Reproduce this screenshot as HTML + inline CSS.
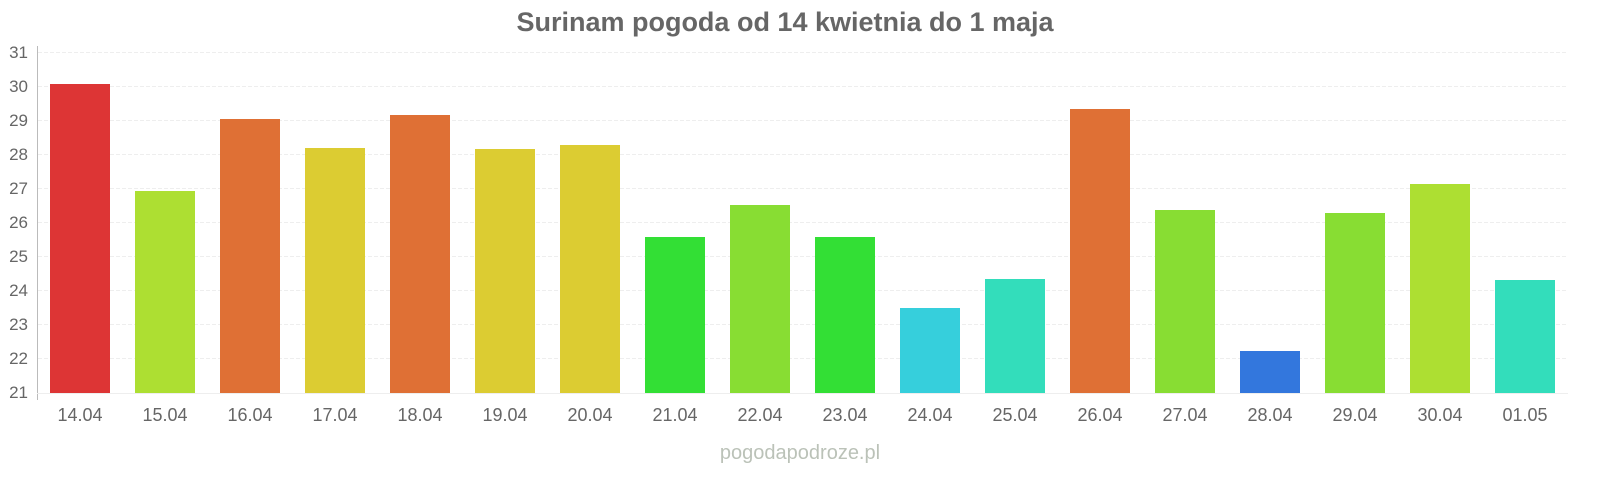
<!DOCTYPE html>
<html><head><meta charset="utf-8"><style>
html,body{margin:0;padding:0;background:#fff;}
</style></head><body>
<svg width="1600" height="480" xmlns="http://www.w3.org/2000/svg" font-family="Liberation Sans, sans-serif">
<text x="785" y="31" text-anchor="middle" font-size="27" font-weight="bold" fill="#666">Surinam pogoda od 14 kwietnia do 1 maja</text>
<g stroke="#eee" stroke-width="1" stroke-dasharray="4,2">
<line x1="38" x2="1568" y1="52.5" y2="52.5"/><line x1="38" x2="1568" y1="86.5" y2="86.5"/>
<line x1="38" x2="1568" y1="120.5" y2="120.5"/><line x1="38" x2="1568" y1="154.5" y2="154.5"/>
<line x1="38" x2="1568" y1="188.5" y2="188.5"/><line x1="38" x2="1568" y1="222.5" y2="222.5"/>
<line x1="38" x2="1568" y1="256.5" y2="256.5"/><line x1="38" x2="1568" y1="290.5" y2="290.5"/>
<line x1="38" x2="1568" y1="324.5" y2="324.5"/><line x1="38" x2="1568" y1="358.5" y2="358.5"/>
</g>
<line x1="37.5" x2="37.5" y1="46" y2="400" stroke="#bbb"/>
<line x1="37" x2="1568" y1="393.5" y2="393.5" stroke="#eee"/>
<g font-size="17" fill="#666" text-anchor="end">
<text x="28" y="58">31</text><text x="28" y="92">30</text><text x="28" y="126">29</text><text x="28" y="160">28</text>
<text x="28" y="194">27</text><text x="28" y="228">26</text><text x="28" y="262">25</text><text x="28" y="296">24</text>
<text x="28" y="330">23</text><text x="28" y="364">22</text><text x="28" y="398">21</text>
</g>
<g>
<rect x="50" y="84" width="60" height="309" fill="#dd3535"/>
<rect x="135" y="191" width="60" height="202" fill="#addf32"/>
<rect x="220" y="119" width="60" height="274" fill="#df7035"/>
<rect x="305" y="148" width="60" height="245" fill="#dccc32"/>
<rect x="390" y="115" width="60" height="278" fill="#df7035"/>
<rect x="475" y="149" width="60" height="244" fill="#dccc32"/>
<rect x="560" y="145" width="60" height="248" fill="#dccc32"/>
<rect x="645" y="237" width="60" height="156" fill="#33df35"/>
<rect x="730" y="205" width="60" height="188" fill="#88dd33"/>
<rect x="815" y="237" width="60" height="156" fill="#33df35"/>
<rect x="900" y="308" width="60" height="85" fill="#36cfdc"/>
<rect x="985" y="279" width="60" height="114" fill="#33ddbb"/>
<rect x="1070" y="109" width="60" height="284" fill="#df7035"/>
<rect x="1155" y="210" width="60" height="183" fill="#88dd33"/>
<rect x="1240" y="351" width="60" height="42" fill="#3377dd"/>
<rect x="1325" y="213" width="60" height="180" fill="#88dd33"/>
<rect x="1410" y="184" width="60" height="209" fill="#addf32"/>
<rect x="1495" y="280" width="60" height="113" fill="#33ddbb"/>
</g>
<g font-size="18" fill="#666" text-anchor="middle">
<text x="80" y="421">14.04</text><text x="165" y="421">15.04</text><text x="250" y="421">16.04</text>
<text x="335" y="421">17.04</text><text x="420" y="421">18.04</text><text x="505" y="421">19.04</text>
<text x="590" y="421">20.04</text><text x="675" y="421">21.04</text><text x="760" y="421">22.04</text>
<text x="845" y="421">23.04</text><text x="930" y="421">24.04</text><text x="1015" y="421">25.04</text>
<text x="1100" y="421">26.04</text><text x="1185" y="421">27.04</text><text x="1270" y="421">28.04</text>
<text x="1355" y="421">29.04</text><text x="1440" y="421">30.04</text><text x="1525" y="421">01.05</text>
</g>
<text x="800" y="459" text-anchor="middle" font-size="20" fill="#bbc2b8">pogodapodroze.pl</text>
</svg>
</body></html>
